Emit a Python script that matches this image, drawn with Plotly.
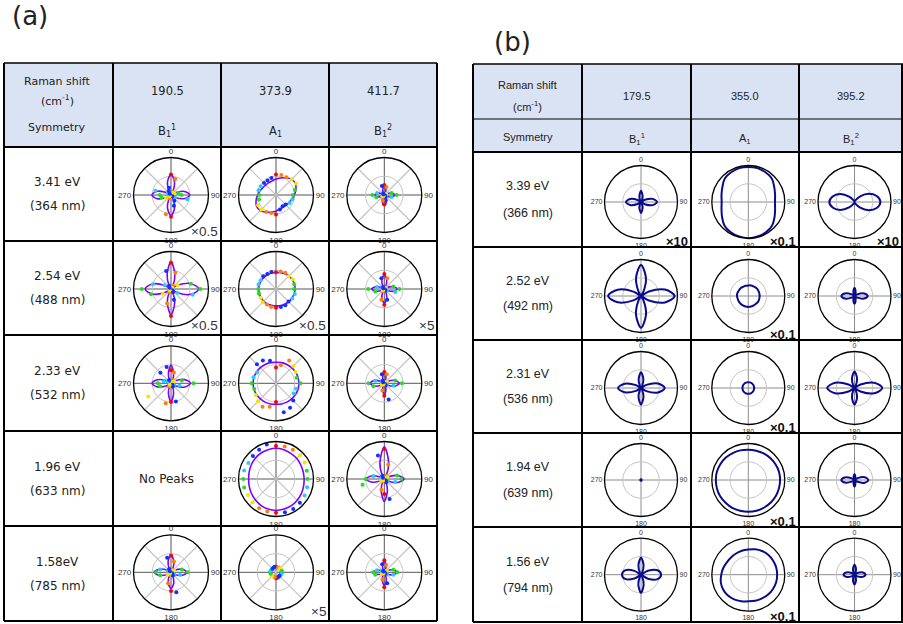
import plotly.graph_objects as go

W, H = 903, 624

# ---------------- shared angle grid (degrees) ----------------
THETA = [0, 15, 30, 45, 60, 75, 90, 105, 120, 135, 150, 165,
         180, 195, 210, 225, 240, 255, 270, 285, 300, 315, 330, 345]

# ---------------- panel (a): header / row labels ----------------
A_SHIFT = ["190.5", "373.9", "411.7"]
A_SYMM = ["B<sub>1</sub><sup>1</sup>", "A<sub>1</sub>", "B<sub>1</sub><sup>2</sup>"]
A_ENERGY = ["3.41 eV", "2.54 eV", "2.33 eV", "1.96 eV", "1.58eV"]
A_WAVE = ["(364 nm)", "(488 nm)", "(532 nm)", "(633 nm)", "(785 nm)"]
A_SCALE = [["×0.5", "", ""], ["×0.5", "×0.5", "×5"], ["", "", ""], ["", "", ""], ["", "×5", ""]]

# fitted curves (relative radius, 1 = outer circle) and measured points, panel (a)
A_FIT_341_B11 = [.55, .36, .09, 0, .12, .37, .50, .37, .12, 0, .09, .36, .55, .36, .09, 0, .12, .38, .51, .38, .12, 0, .09, .36]
A_PTS_341_B11 = [.55, .44, .10, .08, .10, .20, .28, .45, .12, .05, .18, .30, .58, .53, .10, .05, .15, .26, .30, .43, .10, .05, .12, .20]
A_FIT_341_A1 = [.43, .47, .53, .59, .60, .55, .49, .44, .40, .38, .38, .39, .43, .47, .53, .59, .60, .55, .49, .44, .40, .38, .38, .39]
A_PTS_341_A1 = [.55, .55, .55, .60, .62, .52, .45, .45, .42, .36, .35, .40, .52, .50, .52, .55, .55, .47, .45, .48, .47, .45, .45, .47]
A_FIT_341_B12 = [.22, .16, .05, 0, .07, .20, .27, .20, .07, 0, .07, .20, .27, .20, .07, 0, .06, .19, .25, .19, .07, 0, .05, .16]
A_PTS_341_B12 = [.27, .22, .05, .03, .06, .20, .33, .20, .05, .03, .06, .15, .25, .15, .05, .03, .06, .22, .32, .20, .05, .03, .05, .25]

A_FIT_254_B11 = [.73, .40, .10, 0, .20, .55, .74, .55, .20, 0, .09, .38, .69, .38, .09, 0, .19, .52, .69, .52, .19, 0, .10, .40]
A_PTS_254_B11 = [.70, .45, .10, .05, .20, .55, .78, .60, .20, .05, .10, .30, .72, .40, .10, .05, .25, .55, .78, .50, .20, .05, .10, .50]
A_FIT_254_A1 = [.44, .45, .47, .49, .50, .51, .51, .50, .49, .48, .47, .46, .45, .45, .46, .46, .46, .46, .46, .46, .45, .45, .44, .44]
A_PTS_254_A1 = [.45, .48, .50, .48, .52, .50, .48, .52, .50, .47, .50, .50, .50, .50, .48, .50, .47, .47, .47, .48, .47, .48, .46, .47]
A_FIT_254_B12 = [.37, .25, .07, 0, .07, .24, .35, .24, .07, 0, .07, .25, .38, .25, .07, 0, .07, .23, .34, .23, .07, 0, .07, .25]
A_PTS_254_B12 = [.40, .30, .05, .03, .05, .25, .40, .30, .08, .03, .05, .30, .42, .30, .06, .04, .05, .25, .43, .20, .06, .03, .06, .30]

A_FIT_233_B11 = [.49, .27, .06, 0, .13, .38, .52, .38, .13, 0, .06, .27, .49, .27, .06, 0, .13, .37, .51, .37, .13, 0, .06, .27]
A_PTS_233_B11 = [.35, .30, .10, .05, .10, .30, .60, .23, .10, .05, .10, .50, .50, .55, .10, .05, .70, .30, .35, .20, .10, .40, .10, .45]
A_FIT_233_A1 = [.56, .57, .58, .59, .60, .61, .61, .61, .60, .59, .58, .57, .56, .57, .58, .59, .60, .61, .61, .61, .60, .59, .58, .57]
A_PTS_233_A1 = [.42, .50, .70, .65, .60, .57, .65, .55, .55, .65, .75, .80, .50, .65, .72, .68, .62, .60, .65, .62, .58, .72, .70, .62]
A_FIT_233_B12 = [.31, .17, .04, 0, .10, .29, .40, .29, .10, 0, .04, .17, .31, .17, .04, 0, .10, .28, .38, .28, .10, 0, .04, .17]
A_PTS_233_B12 = [.30, .25, .05, .03, .08, .30, .47, .25, .08, .04, .06, .45, .33, .20, .05, .03, .08, .30, .42, .25, .07, .04, .08, .25]

A_FIT_196_A1 = [.82, .81, .79, .78, .76, .75, .75, .76, .78, .80, .82, .83, .84, .83, .81, .78, .76, .74, .73, .74, .76, .78, .80, .81]
A_PTS_196_A1 = [.88, .90, .90, .90, .88, .85, .84, .86, .88, .90, .92, .92, .90, .90, .90, .88, .86, .88, .87, .88, .85, .87, .90, .95]
A_FIT_196_B12 = [.86, .45, .10, 0, .09, .36, .53, .36, .09, 0, .08, .32, .60, .32, .08, 0, .08, .33, .49, .33, .08, 0, .10, .45]
A_PTS_196_B12 = [.80, .40, .10, .05, .10, .35, .45, .30, .10, .05, .10, .55, .40, .30, .08, .05, .10, .60, .50, .30, .08, .05, .10, .65]

A_FIT_158_B11 = [.46, .30, .08, 0, .10, .31, .43, .31, .10, 0, .08, .29, .43, .29, .08, 0, .10, .32, .45, .32, .10, 0, .08, .30]
A_PTS_158_B11 = [.45, .30, .08, .05, .10, .30, .45, .25, .10, .04, .10, .55, .50, .30, .08, .04, .10, .30, .40, .30, .10, .04, .10, .40]
A_FIT_158_A1 = [.12, .12, .13, .13, .13, .12, .12, .11, .11, .11, .11, .12, .12, .12, .12, .12, .12, .12, .12, .12, .12, .12, .12, .12]
A_PTS_158_A1 = [.15, .13, .15, .14, .15, .16, .17, .15, .14, .13, .14, .15, .16, .14, .13, .15, .14, .15, .16, .15, .14, .13, .14, .15]
A_FIT_158_B12 = [.30, .18, .05, 0, .09, .25, .33, .25, .09, 0, .05, .21, .36, .21, .05, 0, .08, .21, .28, .21, .08, 0, .05, .18]
A_PTS_158_B12 = [.32, .20, .05, .03, .08, .25, .35, .25, .08, .03, .05, .30, .40, .20, .06, .03, .08, .25, .30, .20, .07, .03, .05, .22]

A_FITS = [[A_FIT_341_B11, A_FIT_341_A1, A_FIT_341_B12],
          [A_FIT_254_B11, A_FIT_254_A1, A_FIT_254_B12],
          [A_FIT_233_B11, A_FIT_233_A1, A_FIT_233_B12],
          [None, A_FIT_196_A1, A_FIT_196_B12],
          [A_FIT_158_B11, A_FIT_158_A1, A_FIT_158_B12]]
A_PTS = [[A_PTS_341_B11, A_PTS_341_A1, A_PTS_341_B12],
         [A_PTS_254_B11, A_PTS_254_A1, A_PTS_254_B12],
         [A_PTS_233_B11, A_PTS_233_A1, A_PTS_233_B12],
         [None, A_PTS_196_A1, A_PTS_196_B12],
         [A_PTS_158_B11, A_PTS_158_A1, A_PTS_158_B12]]

# ---------------- panel (b) ----------------
B_SHIFT = ["179.5", "355.0", "395.2"]
B_SYMM = ["B<sub>1</sub><sup>1</sup>", "A<sub>1</sub>", "B<sub>1</sub><sup>2</sup>"]
B_ENERGY = ["3.39 eV", "2.52 eV", "2.31 eV", "1.94 eV", "1.56 eV"]
B_WAVE = ["(366 nm)", "(492 nm)", "(536 nm)", "(639 nm)", "(794 nm)"]
B_SCALE = [["×10", "×0.1", "×10"], ["", "×0.1", ""], ["", "×0.1", ""], ["", "×0.1", ""], ["", "×0.1", ""]]

B_339_B11 = [.31, .17, .05, 0, .12, .33, .44, .33, .12, 0, .05, .17, .30, .17, .05, 0, .11, .31, .41, .31, .11, 0, .05, .17]
B_339_A1 = [.96, .96, .94, .91, .82, .76, .73, .76, .83, .92, .96, .98, .99, .98, .96, .92, .83, .76, .73, .76, .82, .91, .94, .96]
B_339_B12 = [0, .01, .06, .22, .45, .63, .71, .63, .45, .22, .06, .01, 0, .01, .06, .21, .44, .61, .69, .61, .44, .21, .06, .01]
B_252_B11 = [.85, .52, .13, 0, .25, .68, .92, .68, .25, 0, .13, .53, .87, .53, .13, 0, .24, .66, .90, .66, .24, 0, .13, .52]
B_252_A1 = [.29, .30, .30, .31, .31, .31, .31, .31, .31, .30, .30, .30, .30, .30, .30, .30, .30, .30, .31, .31, .30, .30, .29, .29]
B_252_B12 = [.22, .12, .03, 0, .09, .27, .36, .27, .09, 0, .03, .12, .21, .12, .03, 0, .09, .27, .36, .27, .09, 0, .03, .12]
B_231_B11 = [.43, .25, .06, 0, .17, .48, .65, .48, .17, 0, .06, .26, .45, .26, .06, 0, .16, .46, .63, .46, .16, 0, .06, .25]
B_231_A1 = [.16, .16, .16, .16, .16, .16, .16, .16, .16, .16, .16, .16, .16, .16, .16, .16, .16, .16, .16, .16, .16, .16, .16, .16]
B_231_B12 = [.45, .27, .06, 0, .19, .56, .76, .56, .19, 0, .06, .27, .45, .27, .06, 0, .19, .55, .75, .55, .19, 0, .06, .27]
B_194_B11 = [.02, .02, .02, .02, .02, .02, .02, .02, .02, .02, .02, .02, .02, .02, .02, .02, .02, .02, .02, .02, .02, .02, .02, .02]
B_194_A1 = [.83, .83, .84, .85, .86, .87, .87, .87, .87, .87, .87, .87, .87, .87, .88, .88, .89, .89, .89, .89, .88, .87, .85, .84]
B_194_B12 = [.16, .09, .03, 0, .10, .29, .38, .29, .10, 0, .03, .10, .18, .10, .03, 0, .09, .27, .36, .27, .09, 0, .03, .09]
B_156_B11 = [.47, .27, .06, 0, .22, .47, .55, .47, .22, 0, .06, .28, .50, .28, .06, 0, .21, .45, .52, .45, .21, 0, .06, .27]
B_156_A1 = [.69, .72, .75, .77, .78, .79, .79, .79, .78, .77, .75, .74, .73, .75, .78, .80, .80, .78, .74, .71, .68, .67, .67, .68]
B_156_B12 = [.27, .16, .04, 0, .09, .23, .30, .23, .09, 0, .04, .16, .27, .16, .04, 0, .09, .23, .30, .23, .09, 0, .04, .16]

B_FITS = [[B_339_B11, B_339_A1, B_339_B12],
          [B_252_B11, B_252_A1, B_252_B12],
          [B_231_B11, B_231_A1, B_231_B12],
          [B_194_B11, B_194_A1, B_194_B12],
          [B_156_B11, B_156_A1, B_156_B12]]

# point colours by polarisation angle (one period = 180 deg)
PT_COLORS = ["#ff0000", "#ff7f00", "#ff7f00", "#f5e600", "#f5e600", "#22dd22",
             "#22dd22", "#22ccff", "#22ccff", "#1030ff", "#1030ff", "#1030ff"]

# ---------------- geometry (pixels) ----------------
A_COL_X = [171, 276, 384.3]
A_ROW_Y = [195, 289, 383.3, 479, 572.3]
A_R = 37.5
B_COL_X = [641, 748.3, 854.5]
B_ROW_Y = [202, 296, 388, 480, 574.7]
B_R = 36.5

A_XE = [4, 113, 221, 329, 437]
A_YE = [147, 241, 335, 431, 526, 621]
B_XE = [473, 582, 691, 799, 902]
B_YE = [152, 247, 340, 433, 527, 622]


def px(x):
    return x / W


def py(y):
    return 1 - y / H


fig = go.Figure()
polars = {}
count = [0]


def add_polar(cx, cy, R, cross_col, tick_size):
    count[0] += 1
    k = count[0]
    name = "polar" if k == 1 else f"polar{k}"
    polars[name] = dict(
        domain=dict(x=[px(cx - R), px(cx + R)], y=[py(cy + R), py(cy - R)]),
        bgcolor="rgba(0,0,0,0)",
        radialaxis=dict(range=[0, 1], tickvals=[0.5], showticklabels=False, ticks="",
                        showline=False, gridcolor="#c4c4c4", gridwidth=1),
        angularaxis=dict(rotation=90, direction="clockwise", tickvals=[0, 90, 180, 270],
                         ticktext=["0", "90", "180", "270"], showline=True, linecolor="black",
                         linewidth=1.3, gridcolor=cross_col, gridwidth=1, ticks="",
                         tickfont=dict(size=tick_size, family="Liberation Sans", color="#333333")),
    )
    return name


closed_theta = THETA + [THETA[0]]

# ---- panel (a) plots ----
for i in range(5):
    for j in range(3):
        fit = A_FITS[i][j]
        if fit is None:
            continue
        sp = add_polar(A_COL_X[j], A_ROW_Y[i], A_R, "#555555", 8)
        fig.add_trace(go.Scatterpolar(r=[1, 1, None, 1, 1], theta=[45, 225, None, 135, 315],
                                      mode="lines", line=dict(color="#c4c4c4", width=1.2),
                                      subplot=sp, showlegend=False, hoverinfo="skip"))
        fig.add_trace(go.Scatterpolar(r=fit + [fit[0]], theta=closed_theta, mode="lines",
                                      line=dict(color="#7f00ff", width=1.6, shape="spline", smoothing=1),
                                      subplot=sp, showlegend=False, hoverinfo="skip"))
        pts = A_PTS[i][j]
        fig.add_trace(go.Scatterpolar(r=pts, theta=THETA, mode="markers",
                                      marker=dict(color=PT_COLORS + PT_COLORS, size=4),
                                      subplot=sp, showlegend=False, hoverinfo="skip"))

# ---- panel (b) plots ----
for i in range(5):
    for j in range(3):
        fit = B_FITS[i][j]
        sp = add_polar(B_COL_X[j], B_ROW_Y[i], B_R, "#8c8c8c", 7)
        fig.add_trace(go.Scatterpolar(r=fit + [fit[0]], theta=closed_theta, mode="lines",
                                      line=dict(color="#0a0a8c", width=2, shape="spline", smoothing=1),
                                      subplot=sp, showlegend=False, hoverinfo="skip"))

# ---- table shapes ----
shapes = []


def hline(x0, x1, y, w=2):
    shapes.append(dict(type="line", xref="paper", yref="paper", x0=px(x0), x1=px(x1),
                       y0=py(y), y1=py(y), line=dict(color="black", width=w)))


def vline(x, y0, y1, w=2):
    shapes.append(dict(type="line", xref="paper", yref="paper", x0=px(x), x1=px(x),
                       y0=py(y0), y1=py(y1), line=dict(color="black", width=w)))


shapes.append(dict(type="rect", xref="paper", yref="paper", x0=px(4), x1=px(437), y0=py(147), y1=py(63),
                   fillcolor="#dae3f3", line=dict(width=0), layer="below"))
shapes.append(dict(type="rect", xref="paper", yref="paper", x0=px(473), x1=px(903), y0=py(152), y1=py(64),
                   fillcolor="#dae3f3", line=dict(width=0), layer="below"))
hline(4, 437, 63, 1.5)
for y in A_YE:
    hline(4, 437, y, 2.2)
for x in A_XE:
    vline(x, 63, 621, 2)
hline(473, 903, 64, 1.5)
hline(473, 903, 119, 1.2)
for y in B_YE:
    hline(473, 903, y, 2.2)
for x in B_XE:
    vline(x, 64, 622, 2)

# ---- text ----
ann = []


def text(x, y, s, size, family, color="#222", xanchor="center", yanchor="middle", bold=False):
    if bold:
        s = "<b>" + s + "</b>"
    ann.append(dict(x=px(x), y=py(y), xref="paper", yref="paper", text=s, showarrow=False,
                    xanchor=xanchor, yanchor=yanchor,
                    font=dict(size=size, family=family, color=color)))


FA = "DejaVu Sans"
FB = "Liberation Sans"
text(30, 16, "(a)", 26, FA)
text(512, 42, "(b)", 26, FA)

# panel (a) header
text(57, 82, "Raman shift", 11, FA)
text(57, 101, "(cm<sup>-1</sup>)", 11, FA)
text(57, 128, "Symmetry", 11, FA)
for j in range(3):
    cx = (A_XE[j + 1] + A_XE[j + 2]) / 2
    text(cx, 91, A_SHIFT[j], 11.5, FA)
    text(cx, 131, A_SYMM[j], 11.5, FA)
for i in range(5):
    cy = (A_YE[i] + A_YE[i + 1]) / 2
    text(57, cy - 12, A_ENERGY[i], 12, FA)
    text(57, cy + 12, A_WAVE[i], 12, FA)
    for j in range(3):
        if A_SCALE[i][j]:
            text(A_XE[j + 2] - 1, A_YE[i + 1], A_SCALE[i][j], 13.5, FB, color="#333",
                 xanchor="right", yanchor="bottom")
text(166, 479, "No Peaks", 12, FA)

# panel (b) header
text(527.5, 85, "Raman shift", 11, FB)
text(527.5, 106, "(cm<sup>-1</sup>)", 11, FB)
text(527.5, 137, "Symmetry", 11, FB)
for j in range(3):
    cx = (B_XE[j + 1] + B_XE[j + 2]) / 2
    text(cx, 96, B_SHIFT[j], 11, FB)
    text(cx, 139, B_SYMM[j], 11, FB)
for i in range(5):
    cy = (B_YE[i] + B_YE[i + 1]) / 2
    text(527.5, cy - 13, B_ENERGY[i], 12.5, FB)
    text(527.5, cy + 13, B_WAVE[i], 12.5, FB)
    for j in range(3):
        if B_SCALE[i][j]:
            text(B_XE[j + 2] - 1, B_YE[i + 1] + 4, B_SCALE[i][j], 13, FB, color="#111",
                 xanchor="right", yanchor="bottom", bold=True)

fig.update_layout(width=W, height=H, margin=dict(l=0, r=0, t=0, b=0), autosize=False,
                  paper_bgcolor="white", plot_bgcolor="white", showlegend=False,
                  shapes=shapes, annotations=ann, **polars)

fig.write_html("out.html", config={"displayModeBar": False},
               post_script="document.body.style.margin='0';document.body.style.overflow='hidden';")
